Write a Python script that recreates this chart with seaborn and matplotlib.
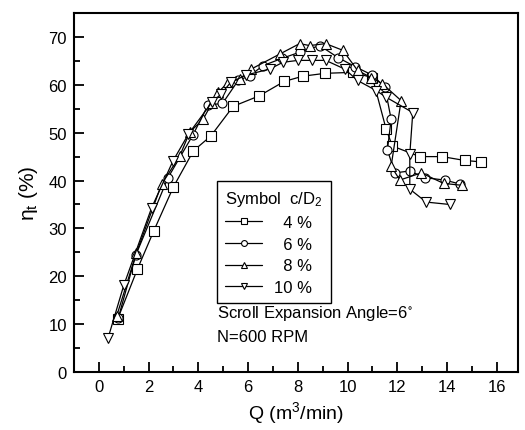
import matplotlib
matplotlib.use("Agg")
import matplotlib.pyplot as plt
import seaborn as sns
import pandas as pd
from matplotlib.ticker import MultipleLocator

# ---- data ----
labels = ["  4 %", "  6 %", "  8 %", "10 %"]
markers = ["s", "o", "^", "v"]

q_4 = [0.75, 1.55, 2.2, 3.0, 3.8, 4.5, 5.4, 6.45, 7.45, 8.2, 9.1, 10.2, 11.0, 11.55, 11.8, 12.9, 13.8, 14.7, 15.35]
e_4 = [11.0, 21.5, 29.4, 38.7, 46.2, 49.3, 55.5, 57.7, 60.7, 61.8, 62.4, 62.6, 61.5, 50.7, 47.2, 45.0, 45.0, 44.2, 43.9]

q_6 = [0.78, 1.49, 2.78, 3.79, 4.39, 4.97, 5.6, 6.06, 6.6, 7.35, 8.07, 8.88, 9.61, 10.3, 11.0, 11.5, 11.75, 11.6, 11.9, 12.5, 13.1, 13.9, 14.5]
e_6 = [11.3, 24.5, 40.6, 49.6, 55.8, 56.1, 60.9, 61.9, 64.0, 65.5, 66.8, 68.2, 65.7, 63.8, 62.0, 59.5, 52.8, 46.4, 41.6, 42.0, 40.6, 40.1, 39.3]

q_8 = [0.71, 1.51, 2.52, 3.25, 3.65, 4.19, 4.55, 4.79, 5.19, 5.66, 6.13, 7.3, 8.07, 8.47, 9.12, 9.81, 10.4, 10.95, 11.4, 12.15, 11.75, 12.1, 12.96, 13.86, 14.6]
e_8 = [11.6, 24.9, 39.2, 45.1, 50.1, 52.8, 56.2, 58.4, 60.5, 61.2, 63.3, 66.5, 68.6, 68.2, 68.6, 67.2, 63.0, 61.5, 60.2, 56.7, 43.0, 40.1, 41.6, 39.4, 39.0]

q_10 = [0.37, 1.0, 2.12, 2.98, 3.6, 4.55, 4.9, 5.3, 5.9, 6.87, 7.4, 8.0, 8.55, 9.12, 9.88, 10.4, 11.15, 11.55, 12.62, 12.5, 12.5, 13.16, 14.1]
e_10 = [7.1, 18.1, 34.3, 44.1, 49.7, 56.4, 58.0, 60.5, 62.0, 63.3, 64.7, 65.1, 65.1, 65.1, 63.3, 60.9, 58.8, 57.4, 54.2, 45.5, 38.2, 35.5, 35.0]

series_q = [q_4, q_6, q_8, q_10]
series_e = [e_4, e_6, e_8, e_10]

x_ticks = [0, 2, 4, 6, 8, 10, 12, 14, 16]
y_ticks = [0, 10, 20, 30, 40, 50, 60, 70]

# ---- style ----
sns.set_style("ticks")
plt.rcParams["font.family"] = ["Liberation Sans", "DejaVu Sans"]
plt.rcParams["mathtext.fontset"] = "custom"
plt.rcParams["mathtext.rm"] = "Liberation Sans"
plt.rcParams["mathtext.it"] = "Liberation Sans:italic"
plt.rcParams["mathtext.default"] = "regular"
for k in ["text.color", "axes.labelcolor", "xtick.color", "ytick.color", "axes.edgecolor"]:
    plt.rcParams[k] = "black"

fig = plt.figure(figsize=(5.25, 4.31), dpi=100)
ax = fig.add_axes([74 / 525, 1 - 373 / 431, (518 - 74) / 525, (373 - 14) / 431])

for q, e, lab, m in zip(series_q, series_e, labels, markers):
    df = pd.DataFrame({"Q": q, "eta": e})
    sns.lineplot(data=df, x="Q", y="eta", sort=False, estimator=None, ax=ax,
                 color="black", linewidth=0.9, marker=m, markersize=7.5 if m in "^v" else 6.5,
                 markerfacecolor="white", markeredgecolor="black", markeredgewidth=0.8,
                 label=lab)

ax.set_xlim(-1, 16.85)
ax.set_ylim(0, 75)
ax.set_xticks(x_ticks)
ax.set_yticks(y_ticks)
ax.xaxis.set_minor_locator(MultipleLocator(1))
ax.yaxis.set_minor_locator(MultipleLocator(5))
ax.tick_params(axis="both", which="major", direction="in", length=7, width=1.3,
               labelsize=12, top=False, right=False, pad=5, colors="black")
ax.tick_params(axis="both", which="minor", direction="in", length=4, width=1.3,
               top=False, right=False, colors="black")
for s in ax.spines.values():
    s.set_linewidth(1.5)
    s.set_color("black")

ax.set_xlabel("Q (m$^{3}$/min)", fontsize=14, labelpad=4)
ax.set_ylabel("η$_{t}$ (%)", fontsize=15, labelpad=6)

leg = ax.legend(loc="upper left", bbox_to_anchor=(0.322, 0.532), borderaxespad=0,
                title="Symbol  c/D$_{2}$", title_fontsize=12, fontsize=12,
                frameon=True, fancybox=False, edgecolor="black", framealpha=1,
                handlelength=2.2, handletextpad=0.7, labelspacing=0.4,
                markerscale=0.65, borderpad=0.5, alignment="left")
leg.get_frame().set_linewidth(1.0)
for t in leg.get_texts():
    t.set_color("black")
leg.get_title().set_color("black")

ax.text(0.322, 0.165, "Scroll Expansion Angle=6$^{\\circ}$", transform=ax.transAxes,
        fontsize=12, va="center", ha="left")
ax.text(0.322, 0.1, "N=600 RPM", transform=ax.transAxes,
        fontsize=12, va="center", ha="left")

fig.savefig("out.png", dpi=100)
